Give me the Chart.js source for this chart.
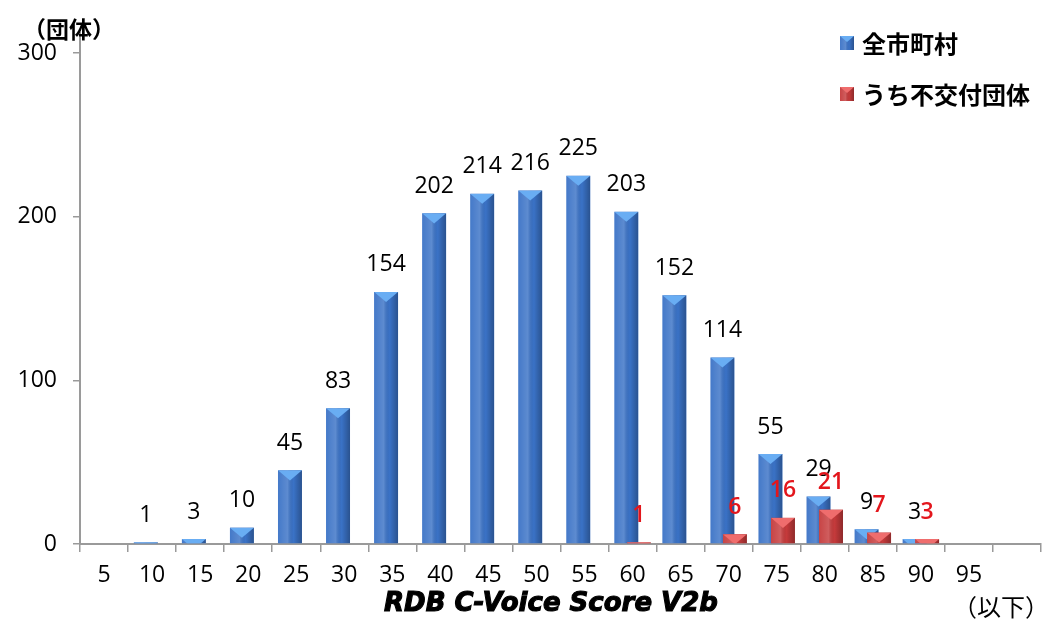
<!DOCTYPE html>
<html>
<head>
<meta charset="utf-8">
<script src="https://cdn.jsdelivr.net/npm/chart.js@4.4.1/dist/chart.umd.min.js"></script>
<style>
  html, body { margin: 0; padding: 0; background: #fff; }
</style>
</head>
<body>
<canvas id="chart" width="1057" height="628"></canvas>
<script>
// score buckets (last slot is the "以下" column, no label)
const scoreLabels = ['5', '10', '15', '20', '25', '30', '35', '40', '45', '50',
    '55', '60', '65', '70', '75', '80', '85', '90', '95', ''];
const allCities = [0, 1, 3, 10, 45, 83, 154, 202, 214, 216, 225, 203, 152, 114, 55, 29, 9, 3, 0, 0];
const notGranted = [0, 0, 0, 0, 0, 0, 0, 0, 0, 0, 0, 1, 0, 6, 16, 21, 7, 3, 0, 0];
const yTicks = [0, 100, 200, 300];
const seriesNames = ['全市町村', 'うち不交付団体'];

const NUM_FONT = "'Open Sans', 'DejaVu Sans', sans-serif";
const JP_FONT = "'Noto Sans CJK JP', sans-serif";

const palette = [
    { body: '#3a72c6', top: '#69adf3', text: '#000000', weight: '' },
    { body: '#c53a3b', top: '#ef6d6d', text: '#e3161c', weight: '600 ' }
];

// bevel look of the Excel bars: side shading + light triangle on top
function shadeBar(ctx, left, top, w, h, colors) {
    if (h <= 0 || w <= 0) return;
    ctx.save();
    ctx.beginPath();
    ctx.rect(left, top, w, h);
    ctx.clip();
    const g = ctx.createLinearGradient(left, 0, left + w, 0);
    g.addColorStop(0, 'rgba(255,255,255,0.05)');
    g.addColorStop(0.4, 'rgba(255,255,255,0.18)');
    g.addColorStop(0.65, 'rgba(0,0,0,0)');
    g.addColorStop(1, 'rgba(0,0,0,0.28)');
    ctx.fillStyle = g;
    ctx.fillRect(left, top, w, h);
    const tri = w * 0.42;
    ctx.beginPath();
    ctx.moveTo(left, top);
    ctx.lineTo(left + w, top);
    ctx.lineTo(left + w / 2, top + tri);
    ctx.closePath();
    ctx.fillStyle = colors.top;
    ctx.fill();
    ctx.restore();
}

// chart.js paints dataset 0 last; here the red series has to sit in front,
// so the bars are painted in dataset order by hand
const barStyle = {
    id: 'barStyle',
    beforeDatasetDraw() {
        return false;
    },
    afterDatasetsDraw(chart) {
        const ctx = chart.ctx;
        chart.data.datasets.forEach((ds, i) => {
            chart.getDatasetMeta(i).data.forEach(el => {
                el.draw(ctx);
                const p = el.getProps(['x', 'y', 'base', 'width'], true);
                shadeBar(ctx, p.x - p.width / 2, p.y, p.width, p.base - p.y, palette[i]);
            });
        });
    }
};

const valueLabels = {
    id: 'valueLabels',
    afterDatasetsDraw(chart) {
        const ctx = chart.ctx;
        ctx.save();
        ctx.textAlign = 'center';
        ctx.textBaseline = 'middle';
        chart.data.datasets.forEach((ds, i) => {
            ctx.font = palette[i].weight + '23px ' + NUM_FONT;
            ctx.fillStyle = palette[i].text;
            chart.getDatasetMeta(i).data.forEach((el, j) => {
                if (!ds.data[j]) return;
                ctx.fillText(String(ds.data[j]), el.x, el.y - 27);
            });
        });
        ctx.restore();
    }
};

// unit label, axis title, "以下" and the legend box
const extras = {
    id: 'extras',
    afterDraw(chart) {
        const ctx = chart.ctx;
        ctx.save();
        ctx.fillStyle = '#000';
        ctx.textBaseline = 'middle';
        ctx.textAlign = 'center';
        ctx.font = 'bold 23px ' + JP_FONT;
        ctx.fillText('（団体）', 69, 29);
        ctx.font = '24px ' + JP_FONT;
        ctx.fillText('（以下）', 1001, 607);

        ctx.font = 'italic bold 26px DejaVu Sans';
        ctx.lineWidth = 1.1;
        ctx.strokeStyle = '#000';
        ctx.strokeText('RDB C-Voice Score V2b', 551, 604);
        ctx.fillText('RDB C-Voice Score V2b', 551, 604);

        ctx.textAlign = 'left';
        ctx.font = 'bold 24px ' + JP_FONT;
        seriesNames.forEach((name, i) => {
            const cy = 43 + i * 51;
            ctx.fillStyle = palette[i].body;
            ctx.fillRect(840, cy - 7, 14, 14);
            shadeBar(ctx, 840, cy - 7, 14, 14, palette[i]);
            ctx.fillStyle = '#000';
            ctx.fillText(name, 862, cy + 1);
        });
        ctx.restore();
    }
};

const tickFont = { family: NUM_FONT, size: 23 };

new Chart(document.getElementById('chart'), {
    type: 'bar',
    data: {
        labels: scoreLabels,
        datasets: [
            { label: seriesNames[0], data: allCities, backgroundColor: palette[0].body },
            { label: seriesNames[1], data: notGranted, backgroundColor: palette[1].body }
        ]
    },
    options: {
        responsive: false,
        animation: false,
        categoryPercentage: 0.52,
        barPercentage: 1.92,
        layout: { padding: { top: 33, right: 16, left: 0, bottom: 0 } },
        plugins: {
            legend: { display: false },
            tooltip: { enabled: false }
        },
        scales: {
            x: {
                grid: { drawOnChartArea: false, drawTicks: true, tickLength: 8, color: '#9a9a9a', lineWidth: 1.5, offset: true },
                border: { display: true, color: '#9a9a9a', width: 2 },
                ticks: { font: tickFont, color: '#000', padding: 10, maxRotation: 0, autoSkip: false },
                afterFit: s => { s.height = 84; }
            },
            y: {
                min: 0,
                max: 312.2,
                grid: { drawOnChartArea: false, drawTicks: true, tickLength: 7, color: '#9a9a9a', lineWidth: 1.5 },
                border: { display: true, color: '#9a9a9a', width: 2 },
                ticks: { font: tickFont, color: '#000', padding: 16 },
                afterBuildTicks: s => { s.ticks = yTicks.map(v => ({ value: v })); },
                afterFit: s => { s.width = 80; }
            }
        }
    },
    plugins: [barStyle, valueLabels, extras]
});
</script>
</body>
</html>
